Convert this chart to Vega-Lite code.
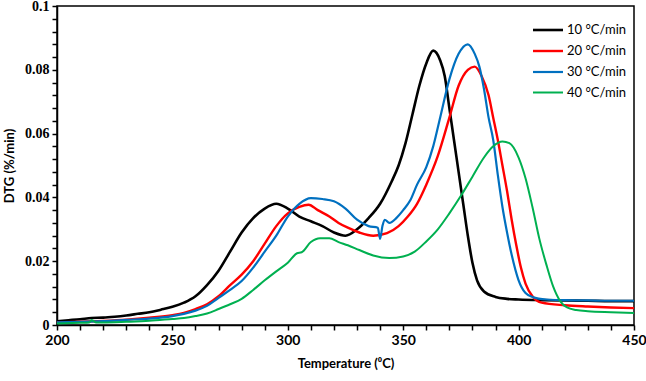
{
  "$schema": "https://vega.github.io/schema/vega-lite/v6.json",
  "width": 577,
  "height": 319,
  "autosize": {"type": "none"},
  "padding": {"left": 57, "top": 6, "right": 12, "bottom": 56},
  "background": "white",
  "config": {
    "view": {"stroke": "#000", "strokeWidth": 1.5}
  },
  "data": {"values": [
    {"T":200,"v":0.0012,"s":"10 °C/min"},{"T":205,"v":0.0015,"s":"10 °C/min"},{"T":210,"v":0.0018,"s":"10 °C/min"},{"T":215,"v":0.0022,"s":"10 °C/min"},{"T":220,"v":0.0023,"s":"10 °C/min"},{"T":225,"v":0.0026,"s":"10 °C/min"},{"T":230,"v":0.003,"s":"10 °C/min"},{"T":235,"v":0.0035,"s":"10 °C/min"},{"T":240,"v":0.004,"s":"10 °C/min"},{"T":245,"v":0.0048,"s":"10 °C/min"},{"T":250,"v":0.0057,"s":"10 °C/min"},{"T":255,"v":0.007,"s":"10 °C/min"},{"T":260,"v":0.009,"s":"10 °C/min"},{"T":265,"v":0.0125,"s":"10 °C/min"},{"T":270,"v":0.017,"s":"10 °C/min"},{"T":275,"v":0.023,"s":"10 °C/min"},{"T":280,"v":0.029,"s":"10 °C/min"},{"T":285,"v":0.0335,"s":"10 °C/min"},{"T":290,"v":0.0365,"s":"10 °C/min"},{"T":295,"v":0.038,"s":"10 °C/min"},{"T":300,"v":0.0365,"s":"10 °C/min"},{"T":305,"v":0.034,"s":"10 °C/min"},{"T":310,"v":0.0325,"s":"10 °C/min"},{"T":315,"v":0.031,"s":"10 °C/min"},{"T":320,"v":0.029,"s":"10 °C/min"},{"T":325,"v":0.028,"s":"10 °C/min"},{"T":330,"v":0.03,"s":"10 °C/min"},{"T":335,"v":0.0335,"s":"10 °C/min"},{"T":340,"v":0.038,"s":"10 °C/min"},{"T":345,"v":0.045,"s":"10 °C/min"},{"T":348,"v":0.05,"s":"10 °C/min"},{"T":351,"v":0.057,"s":"10 °C/min"},{"T":354,"v":0.066,"s":"10 °C/min"},{"T":357,"v":0.075,"s":"10 °C/min"},{"T":360,"v":0.082,"s":"10 °C/min"},{"T":363,"v":0.086,"s":"10 °C/min"},{"T":366,"v":0.083,"s":"10 °C/min"},{"T":368,"v":0.078,"s":"10 °C/min"},{"T":370,"v":0.068,"s":"10 °C/min"},{"T":372,"v":0.058,"s":"10 °C/min"},{"T":374,"v":0.048,"s":"10 °C/min"},{"T":376,"v":0.038,"s":"10 °C/min"},{"T":378,"v":0.028,"s":"10 °C/min"},{"T":380,"v":0.0195,"s":"10 °C/min"},{"T":382,"v":0.014,"s":"10 °C/min"},{"T":385,"v":0.0105,"s":"10 °C/min"},{"T":390,"v":0.0088,"s":"10 °C/min"},{"T":395,"v":0.0082,"s":"10 °C/min"},{"T":400,"v":0.008,"s":"10 °C/min"},{"T":410,"v":0.0078,"s":"10 °C/min"},{"T":420,"v":0.0077,"s":"10 °C/min"},{"T":430,"v":0.0076,"s":"10 °C/min"},{"T":440,"v":0.0075,"s":"10 °C/min"},{"T":450,"v":0.0075,"s":"10 °C/min"},

    {"T":200,"v":0.0008,"s":"20 °C/min"},{"T":210,"v":0.001,"s":"20 °C/min"},{"T":220,"v":0.0013,"s":"20 °C/min"},{"T":230,"v":0.0017,"s":"20 °C/min"},{"T":240,"v":0.0023,"s":"20 °C/min"},{"T":250,"v":0.0031,"s":"20 °C/min"},{"T":255,"v":0.0038,"s":"20 °C/min"},{"T":260,"v":0.005,"s":"20 °C/min"},{"T":265,"v":0.0065,"s":"20 °C/min"},{"T":270,"v":0.009,"s":"20 °C/min"},{"T":275,"v":0.0125,"s":"20 °C/min"},{"T":280,"v":0.0158,"s":"20 °C/min"},{"T":285,"v":0.02,"s":"20 °C/min"},{"T":290,"v":0.0255,"s":"20 °C/min"},{"T":295,"v":0.031,"s":"20 °C/min"},{"T":300,"v":0.035,"s":"20 °C/min"},{"T":305,"v":0.037,"s":"20 °C/min"},{"T":309,"v":0.0377,"s":"20 °C/min"},{"T":313,"v":0.036,"s":"20 °C/min"},{"T":318,"v":0.034,"s":"20 °C/min"},{"T":322,"v":0.032,"s":"20 °C/min"},{"T":326,"v":0.0305,"s":"20 °C/min"},{"T":331,"v":0.029,"s":"20 °C/min"},{"T":337,"v":0.028,"s":"20 °C/min"},{"T":343,"v":0.0288,"s":"20 °C/min"},{"T":348,"v":0.031,"s":"20 °C/min"},{"T":352,"v":0.034,"s":"20 °C/min"},{"T":356,"v":0.038,"s":"20 °C/min"},{"T":360,"v":0.044,"s":"20 °C/min"},{"T":365,"v":0.053,"s":"20 °C/min"},{"T":370,"v":0.065,"s":"20 °C/min"},{"T":374,"v":0.075,"s":"20 °C/min"},{"T":378,"v":0.08,"s":"20 °C/min"},{"T":381,"v":0.081,"s":"20 °C/min"},{"T":384,"v":0.078,"s":"20 °C/min"},{"T":387,"v":0.072,"s":"20 °C/min"},{"T":389,"v":0.065,"s":"20 °C/min"},{"T":391,"v":0.058,"s":"20 °C/min"},{"T":393,"v":0.05,"s":"20 °C/min"},{"T":395,"v":0.042,"s":"20 °C/min"},{"T":397,"v":0.033,"s":"20 °C/min"},{"T":399,"v":0.025,"s":"20 °C/min"},{"T":401,"v":0.018,"s":"20 °C/min"},{"T":403,"v":0.013,"s":"20 °C/min"},{"T":406,"v":0.009,"s":"20 °C/min"},{"T":410,"v":0.007,"s":"20 °C/min"},{"T":420,"v":0.0062,"s":"20 °C/min"},{"T":430,"v":0.0058,"s":"20 °C/min"},{"T":440,"v":0.0055,"s":"20 °C/min"},{"T":450,"v":0.0053,"s":"20 °C/min"},

    {"T":200,"v":0.0008,"s":"30 °C/min"},{"T":210,"v":0.001,"s":"30 °C/min"},{"T":220,"v":0.0012,"s":"30 °C/min"},{"T":230,"v":0.0016,"s":"30 °C/min"},{"T":240,"v":0.002,"s":"30 °C/min"},{"T":250,"v":0.0028,"s":"30 °C/min"},{"T":255,"v":0.0035,"s":"30 °C/min"},{"T":260,"v":0.0045,"s":"30 °C/min"},{"T":265,"v":0.006,"s":"30 °C/min"},{"T":270,"v":0.0085,"s":"30 °C/min"},{"T":275,"v":0.011,"s":"30 °C/min"},{"T":280,"v":0.0138,"s":"30 °C/min"},{"T":285,"v":0.018,"s":"30 °C/min"},{"T":290,"v":0.023,"s":"30 °C/min"},{"T":295,"v":0.028,"s":"30 °C/min"},{"T":300,"v":0.034,"s":"30 °C/min"},{"T":305,"v":0.038,"s":"30 °C/min"},{"T":310,"v":0.0398,"s":"30 °C/min"},{"T":315,"v":0.0395,"s":"30 °C/min"},{"T":320,"v":0.0388,"s":"30 °C/min"},{"T":325,"v":0.0365,"s":"30 °C/min"},{"T":330,"v":0.033,"s":"30 °C/min"},{"T":335,"v":0.031,"s":"30 °C/min"},{"T":339,"v":0.0305,"s":"30 °C/min"},{"T":340,"v":0.027,"s":"30 °C/min"},{"T":341,"v":0.031,"s":"30 °C/min"},{"T":342,"v":0.033,"s":"30 °C/min"},{"T":344,"v":0.032,"s":"30 °C/min"},{"T":347,"v":0.0335,"s":"30 °C/min"},{"T":350,"v":0.036,"s":"30 °C/min"},{"T":353,"v":0.039,"s":"30 °C/min"},{"T":356,"v":0.044,"s":"30 °C/min"},{"T":360,"v":0.0495,"s":"30 °C/min"},{"T":363,"v":0.056,"s":"30 °C/min"},{"T":366,"v":0.065,"s":"30 °C/min"},{"T":370,"v":0.077,"s":"30 °C/min"},{"T":374,"v":0.085,"s":"30 °C/min"},{"T":378,"v":0.088,"s":"30 °C/min"},{"T":381,"v":0.085,"s":"30 °C/min"},{"T":383,"v":0.081,"s":"30 °C/min"},{"T":385,"v":0.074,"s":"30 °C/min"},{"T":387,"v":0.065,"s":"30 °C/min"},{"T":389,"v":0.058,"s":"30 °C/min"},{"T":391,"v":0.047,"s":"30 °C/min"},{"T":393,"v":0.037,"s":"30 °C/min"},{"T":395,"v":0.029,"s":"30 °C/min"},{"T":397,"v":0.022,"s":"30 °C/min"},{"T":400,"v":0.014,"s":"30 °C/min"},{"T":403,"v":0.01,"s":"30 °C/min"},{"T":406,"v":0.0088,"s":"30 °C/min"},{"T":412,"v":0.008,"s":"30 °C/min"},{"T":420,"v":0.0078,"s":"30 °C/min"},{"T":430,"v":0.0077,"s":"30 °C/min"},{"T":440,"v":0.0076,"s":"30 °C/min"},{"T":450,"v":0.0076,"s":"30 °C/min"},

    {"T":200,"v":0.0005,"s":"40 °C/min"},{"T":210,"v":0.0007,"s":"40 °C/min"},{"T":214,"v":0.0008,"s":"40 °C/min"},{"T":215,"v":0.0016,"s":"40 °C/min"},{"T":217,"v":0.0008,"s":"40 °C/min"},{"T":220,"v":0.0008,"s":"40 °C/min"},{"T":230,"v":0.001,"s":"40 °C/min"},{"T":240,"v":0.0013,"s":"40 °C/min"},{"T":250,"v":0.0019,"s":"40 °C/min"},{"T":255,"v":0.0022,"s":"40 °C/min"},{"T":260,"v":0.0028,"s":"40 °C/min"},{"T":265,"v":0.0036,"s":"40 °C/min"},{"T":270,"v":0.005,"s":"40 °C/min"},{"T":275,"v":0.0065,"s":"40 °C/min"},{"T":280,"v":0.0082,"s":"40 °C/min"},{"T":285,"v":0.011,"s":"40 °C/min"},{"T":290,"v":0.014,"s":"40 °C/min"},{"T":295,"v":0.0168,"s":"40 °C/min"},{"T":300,"v":0.0195,"s":"40 °C/min"},{"T":304,"v":0.0225,"s":"40 °C/min"},{"T":306,"v":0.0228,"s":"40 °C/min"},{"T":310,"v":0.026,"s":"40 °C/min"},{"T":314,"v":0.0272,"s":"40 °C/min"},{"T":318,"v":0.0272,"s":"40 °C/min"},{"T":322,"v":0.026,"s":"40 °C/min"},{"T":326,"v":0.025,"s":"40 °C/min"},{"T":331,"v":0.0235,"s":"40 °C/min"},{"T":337,"v":0.0218,"s":"40 °C/min"},{"T":344,"v":0.021,"s":"40 °C/min"},{"T":350,"v":0.0215,"s":"40 °C/min"},{"T":355,"v":0.023,"s":"40 °C/min"},{"T":360,"v":0.0262,"s":"40 °C/min"},{"T":365,"v":0.03,"s":"40 °C/min"},{"T":370,"v":0.035,"s":"40 °C/min"},{"T":375,"v":0.0405,"s":"40 °C/min"},{"T":380,"v":0.0465,"s":"40 °C/min"},{"T":385,"v":0.0525,"s":"40 °C/min"},{"T":389,"v":0.056,"s":"40 °C/min"},{"T":393,"v":0.0575,"s":"40 °C/min"},{"T":396,"v":0.057,"s":"40 °C/min"},{"T":400,"v":0.0525,"s":"40 °C/min"},{"T":403,"v":0.046,"s":"40 °C/min"},{"T":406,"v":0.037,"s":"40 °C/min"},{"T":409,"v":0.027,"s":"40 °C/min"},{"T":412,"v":0.019,"s":"40 °C/min"},{"T":415,"v":0.012,"s":"40 °C/min"},{"T":418,"v":0.0075,"s":"40 °C/min"},{"T":421,"v":0.0055,"s":"40 °C/min"},{"T":425,"v":0.0047,"s":"40 °C/min"},{"T":430,"v":0.0043,"s":"40 °C/min"},{"T":440,"v":0.004,"s":"40 °C/min"},{"T":450,"v":0.0038,"s":"40 °C/min"}
  ]},
  "mark": {"type": "line", "interpolate": "monotone"},
  "encoding": {
    "x": {
      "field": "T", "type": "quantitative",
      "scale": {"domain": [200, 450], "nice": false, "zero": false},
      "axis": {
        "title": "Temperature (⁰C)",
        "values": [200,210,220,230,240,250,260,270,280,290,300,310,320,330,340,350,360,370,380,390,400,410,420,430,440,450],
        "labelExpr": "datum.value % 50 === 0 ? datum.label : ''",
        "gridOpacity": 0, "domainColor": "black", "domainWidth": 1.5,
        "tickColor": "black", "tickWidth": 1.5, "tickSize": 5,
        "labelColor": "black", "titleColor": "black",
        "labelFont": "Lato", "labelFontSize": 14, "labelFontWeight": "bold", "labelPadding": 3,
        "labelFlush": false, "labelOverlap": false,
        "titleFont": "Lato", "titleFontSize": 13, "titleFontWeight": "bold", "titlePadding": 10
      }
    },
    "y": {
      "field": "v", "type": "quantitative",
      "scale": {"domain": [0, 0.1], "nice": false},
      "axis": {
        "title": "DTG (%/min)",
        "values": [0,0.004,0.008,0.012,0.016,0.02,0.024,0.028,0.032,0.036,0.04,0.044,0.048,0.052,0.056,0.06,0.064,0.068,0.072,0.076,0.08,0.084,0.088,0.092,0.096,0.1],
        "labelExpr": "abs(datum.value*50 - round(datum.value*50)) < 1e-6 ? format(datum.value, '~g') : ''",
        "gridOpacity": 0, "domainColor": "black", "domainWidth": 1.5,
        "tickColor": "black", "tickWidth": 1.5, "tickSize": 5,
        "labelColor": "black", "titleColor": "black",
        "labelFont": "Liberation Serif", "labelFontSize": 14, "labelFontWeight": "bold", "labelPadding": 3,
        "labelFlush": false, "labelOverlap": false,
        "titleFont": "Lato", "titleFontSize": 13, "titleFontWeight": "bold", "titlePadding": 8
      }
    },
    "color": {
      "field": "s", "type": "nominal",
      "scale": {"domain": ["10 °C/min", "20 °C/min", "30 °C/min", "40 °C/min"], "range": ["#000000", "#ff0000", "#0070c0", "#00b050"]},
      "legend": {
        "title": null, "orient": "none", "legendX": 477, "legendY": 10,
        "symbolType": "M-1.2,0H1.2", "symbolSize": 625, "symbolStrokeWidth": 2.5,
        "rowPadding": 0, "labelOffset": 5, "padding": 0,
        "labelFont": "Lato", "labelFontSize": 13, "labelColor": "black"
      }
    },
    "strokeWidth": {
      "field": "s", "type": "nominal",
      "scale": {"domain": ["10 °C/min", "20 °C/min", "30 °C/min", "40 °C/min"], "range": [2.6, 2, 2, 2]},
      "legend": null
    }
  }
}
